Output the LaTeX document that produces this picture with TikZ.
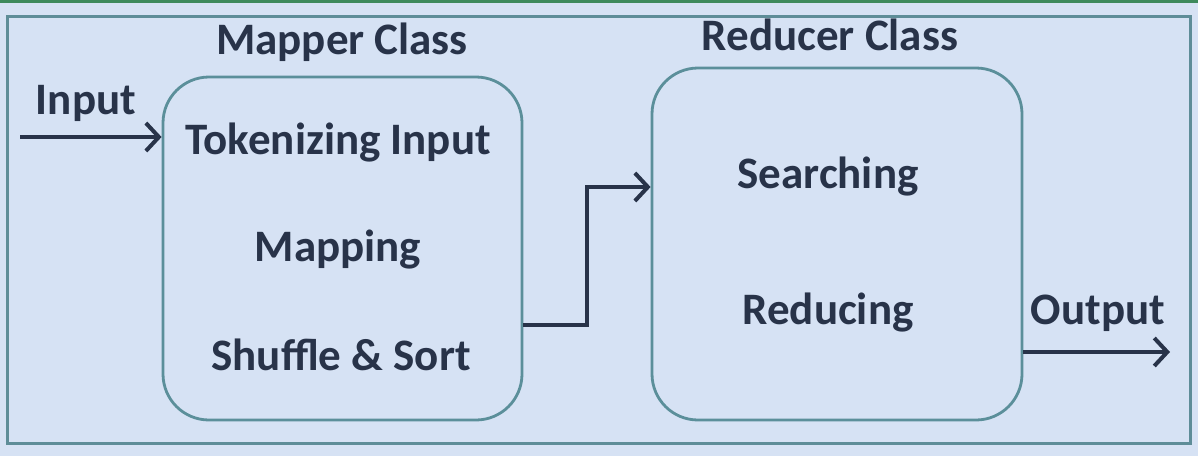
\documentclass[tikz,border=0pt]{standalone}
\usepackage{fontspec}
\setmainfont{Carlito}
\usetikzlibrary{arrows.meta}
\definecolor{bgc}{HTML}{D6E2F4}
\definecolor{framec}{HTML}{5E8D98}
\definecolor{boxc}{HTML}{5B8F9A}
\definecolor{txtc}{HTML}{283349}
\definecolor{topg}{HTML}{3E8A5C}
\tikzset{
  lbl/.style={text=txtc, font=\fontsize{45}{52}\selectfont\bfseries, inner sep=0pt, anchor=center},
  classbox/.style={draw=boxc, line width=2.8pt, rounded corners=46pt, inner sep=0pt},
  flow/.style={draw=txtc, line width=4pt, -{Straight Barb[length=13pt,width=28pt,line width=4pt]}},
}
\begin{document}
\begin{tikzpicture}[x=1pt,y=-1pt]
\useasboundingbox (0,0) rectangle (1198,456);
\fill[bgc] (0,0) rectangle (1198,456);
\fill[topg] (0,0) rectangle (1198,3);
\draw[framec, line width=3pt] (7,16) rectangle (1190,443);
% boxes
\node[classbox, minimum width=359pt, minimum height=343pt] (mapper) at (342.5,248.5) {};
\node[classbox, minimum width=370pt, minimum height=352pt] (reducer) at (837,244) {};
% titles
\node[lbl] (mtitle) at (342,42) {Mapper Class};
\node[lbl] (rtitle) at (830,35) {Reducer Class};
\node[lbl] (input) at (86,103) {Input};
\node[lbl] (output) at (1098,313) {Output};
\node[lbl] (tok) at (338,143) {Tokenizing Input};
\node[lbl] (map) at (338,250) {Mapping};
\node[lbl] (shuf) at (341,355) {Shuffle \& Sort};
\node[lbl] (search) at (828,177) {Searching};
\node[lbl] (reduce) at (828,313) {Reducing};
% connectors
\coordinate (inStart) at (20,137);
\coordinate (outEnd) at (1170,352);
\coordinate (midA) at (522,325);
\coordinate (midB) at (587,325);
\coordinate (midC) at (587,187);
\draw[flow] (inStart) -- (mapper.west |- inStart);
\draw[flow] (mapper.east |- midA) -- (midB) -- (midC) -- (reducer.west |- midC);
\draw[flow] (reducer.east |- outEnd) -- (outEnd);
\end{tikzpicture}
\end{document}
